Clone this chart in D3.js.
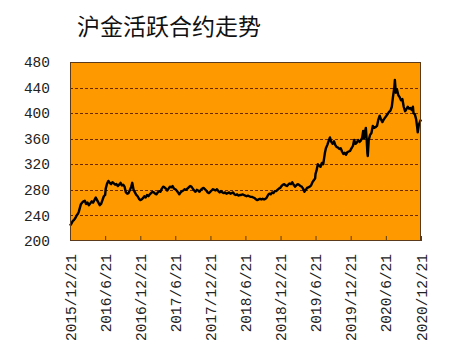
<!DOCTYPE html>
<html><head><meta charset="utf-8">
<script src="https://cdn.jsdelivr.net/npm/d3@7"></script>
<style>body{margin:0;background:#fff}svg{display:block}</style>
</head><body>
<script>
const title = "沪金活跃合约走势";
const yTicks = [200, 240, 280, 320, 360, 400, 440, 480];
const xTickLabels = ["2015/12/21","2016/6/21","2016/12/21","2017/6/21","2017/12/21","2018/6/21","2018/12/21","2019/6/21","2019/12/21","2020/6/21","2020/12/21"];
const dates = [
"2015-12-21","2015-12-28","2016-01-04","2016-01-11","2016-01-18","2016-01-25","2016-02-01","2016-02-05","2016-02-15","2016-02-22","2016-02-29","2016-03-07","2016-03-14","2016-03-21","2016-03-28","2016-04-05","2016-04-12","2016-04-19","2016-04-26","2016-05-03","2016-05-10","2016-05-17","2016-05-24","2016-05-31","2016-06-07","2016-06-14","2016-06-21","2016-06-24","2016-07-01","2016-07-08","2016-07-15","2016-07-22","2016-07-29","2016-08-05","2016-08-12","2016-08-19","2016-08-26","2016-09-02","2016-09-09","2016-09-16","2016-09-23","2016-09-30","2016-10-07","2016-10-14","2016-10-21","2016-10-28","2016-11-04","2016-11-09","2016-11-16","2016-11-23","2016-11-30","2016-12-07","2016-12-14","2016-12-21","2016-12-28",
"2017-01-04","2017-01-11","2017-01-18","2017-01-25","2017-02-01","2017-02-08","2017-02-15","2017-02-22","2017-03-01","2017-03-08","2017-03-15","2017-03-22","2017-03-29","2017-04-05","2017-04-12","2017-04-19","2017-04-26","2017-05-03","2017-05-10","2017-05-17","2017-05-24","2017-05-31","2017-06-07","2017-06-14","2017-06-21","2017-06-28","2017-07-05","2017-07-12","2017-07-19","2017-07-26","2017-08-02","2017-08-09","2017-08-16","2017-08-23","2017-08-30","2017-09-06","2017-09-13","2017-09-20","2017-09-27","2017-10-04","2017-10-11","2017-10-18","2017-10-25","2017-11-01","2017-11-08","2017-11-15","2017-11-22","2017-11-29","2017-12-06","2017-12-13","2017-12-20","2017-12-27",
"2018-01-03","2018-01-10","2018-01-17","2018-01-24","2018-01-31","2018-02-07","2018-02-14","2018-02-21","2018-02-28","2018-03-07","2018-03-14","2018-03-21","2018-03-28","2018-04-04","2018-04-11","2018-04-18","2018-04-25","2018-05-02","2018-05-09","2018-05-16","2018-05-23","2018-05-30","2018-06-06","2018-06-13","2018-06-20","2018-06-27","2018-07-04","2018-07-11","2018-07-18","2018-07-25","2018-08-01","2018-08-08","2018-08-15","2018-08-22","2018-08-29","2018-09-05","2018-09-12","2018-09-19","2018-09-26","2018-10-03","2018-10-10","2018-10-17","2018-10-24","2018-10-31","2018-11-07","2018-11-14","2018-11-21","2018-11-28","2018-12-05","2018-12-12","2018-12-19","2018-12-26",
"2019-01-02","2019-01-09","2019-01-16","2019-01-23","2019-01-30","2019-02-06","2019-02-13","2019-02-20","2019-02-27","2019-03-06","2019-03-13","2019-03-20","2019-03-27","2019-04-03","2019-04-10","2019-04-17","2019-04-24","2019-05-01","2019-05-08","2019-05-15","2019-05-22","2019-05-29","2019-06-05","2019-06-12","2019-06-19","2019-06-21","2019-06-26","2019-07-03","2019-07-10","2019-07-17","2019-07-24","2019-07-31","2019-08-05","2019-08-09","2019-08-14","2019-08-21","2019-08-28","2019-09-04","2019-09-11","2019-09-18","2019-09-25","2019-10-02","2019-10-09","2019-10-16","2019-10-23","2019-10-30","2019-11-06","2019-11-13","2019-11-20","2019-11-27","2019-12-04","2019-12-11","2019-12-18","2019-12-25",
"2020-01-02","2020-01-08","2020-01-15","2020-01-22","2020-01-29","2020-02-05","2020-02-12","2020-02-19","2020-02-24","2020-02-28","2020-03-04","2020-03-09","2020-03-13","2020-03-17","2020-03-19","2020-03-24","2020-03-31","2020-04-07","2020-04-14","2020-04-21","2020-04-28","2020-05-06","2020-05-13","2020-05-20","2020-05-27","2020-06-03","2020-06-10","2020-06-17","2020-06-24","2020-07-01","2020-07-08","2020-07-15","2020-07-22","2020-07-28","2020-08-04","2020-08-07","2020-08-12","2020-08-18","2020-08-25","2020-09-01","2020-09-08","2020-09-15","2020-09-22","2020-09-29","2020-10-06","2020-10-13","2020-10-20","2020-10-27","2020-11-03","2020-11-09","2020-11-12","2020-11-19","2020-11-26","2020-12-01","2020-12-04","2020-12-10","2020-12-15","2020-12-21"];
const prices = [
224,227,231,233,236,240,243,246,257,260,262,263,258,260,256,259,262,260,264,268,264,260,256,258,264,270,272,282,290,294,291,289,292,290,288,289,286,288,291,287,288,285,276,274,275,280,285,291,280,276,272,270,266,264,265,
267,270,268,272,270,273,275,277,276,274,273,276,278,277,282,285,284,282,279,282,285,284,286,282,281,279,276,273,276,278,279,281,280,282,284,286,285,282,279,277,280,279,277,280,282,283,281,279,276,275,277,279,
281,280,279,281,278,276,278,276,275,276,274,275,276,274,275,276,273,272,273,271,272,272,273,272,271,270,271,270,269,269,268,267,265,264,265,266,265,266,265,266,268,272,274,273,276,275,278,278,280,282,283,286,
288,289,287,286,288,290,289,292,288,285,287,289,288,286,285,282,277,280,283,284,285,287,292,295,298,305,310,320,318,316,322,320,330,338,345,350,356,362,355,352,356,350,347,346,344,345,340,336,338,335,339,340,341,345,
349,358,352,354,358,355,357,362,372,360,370,377,360,337,333,358,366,369,380,377,378,380,390,396,390,386,390,393,396,399,402,404,410,425,440,452,432,437,428,425,420,422,410,403,406,410,407,408,405,410,400,398,390,378,370,382,386,390];

const W = 452, H = 358;
const m = {left: 70, right: 31, top: 62, bottom: 117};
const svg = d3.select("body").append("svg").attr("width", W).attr("height", H);
const parse = d3.timeParse("%Y-%m-%d");
const pt = d => parse(d.replace(/\//g, "-").replace(/-(\d)(?=-|$)/g, "-0$1"));
const tickDates = xTickLabels.map(pt);
const data = dates.map((d, i) => ({d: parse(d), v: prices[i]}));

const x = d3.scaleTime().domain([tickDates[0], tickDates[tickDates.length - 1]]).range([m.left, W - m.right]);
const y = d3.scaleLinear().domain([200, 480]).range([H - m.bottom, m.top]);

svg.append("text").attr("x", 77).attr("y", 25).attr("dominant-baseline", "central")
  .attr("font-family", "'Noto Sans CJK SC', sans-serif").attr("font-size", 23).attr("fill", "#111").text(title);

svg.append("rect").attr("x", m.left).attr("y", m.top).attr("width", W - m.right - m.left).attr("height", H - m.bottom - m.top)
  .attr("fill", "#FF9900");

svg.append("g").selectAll("line").data(yTicks.filter(t => t > 200 && t < 480)).join("line")
  .attr("x1", m.left).attr("x2", W - m.right).attr("y1", d => Math.round(y(d)) + 0.5).attr("y2", d => Math.round(y(d)) + 0.5)
  .attr("stroke", "#6b2a00").attr("stroke-width", 1).attr("stroke-dasharray", "3,2");

const line = d3.line().x(d => x(d.d)).y(d => y(d.v)).curve(d3.curveLinear);
svg.append("path").datum(data).attr("d", line).attr("fill", "none").attr("stroke", "#000")
  .attr("stroke-width", 2.4).attr("stroke-linejoin", "round");

svg.append("rect").attr("x", m.left + 0.5).attr("y", m.top + 0.5).attr("width", W - m.right - m.left - 1).attr("height", H - m.bottom - m.top - 1)
  .attr("fill", "none").attr("stroke", "#5a3a1a").attr("stroke-width", 1);

const yAxis = d3.axisLeft(y).tickValues(yTicks).tickSize(0).tickPadding(20).tickFormat(d3.format("d"));
const gy = svg.append("g").attr("transform", `translate(${m.left},0)`).call(yAxis);
gy.select(".domain").remove();
gy.selectAll("text").attr("font-family", "'Liberation Mono', monospace").attr("font-size", 14.5).attr("fill", "#222");

const xAxis = d3.axisBottom(x).tickValues(tickDates).tickSize(-5).tickPadding(0).tickFormat((d, i) => xTickLabels[i]);
const gx = svg.append("g").attr("transform", `translate(0,${H - m.bottom})`).call(xAxis);
gx.select(".domain").remove();
gx.selectAll(".tick line").attr("stroke", "#5a3a1a");
gx.selectAll("text").attr("font-family", "'Liberation Mono', monospace").attr("font-size", 14.5).attr("fill", "#222")
  .attr("transform", "rotate(-90)").attr("text-anchor", "end").attr("dy", "0.35em").attr("x", -13).attr("y", 0);
</script>
</body></html>
